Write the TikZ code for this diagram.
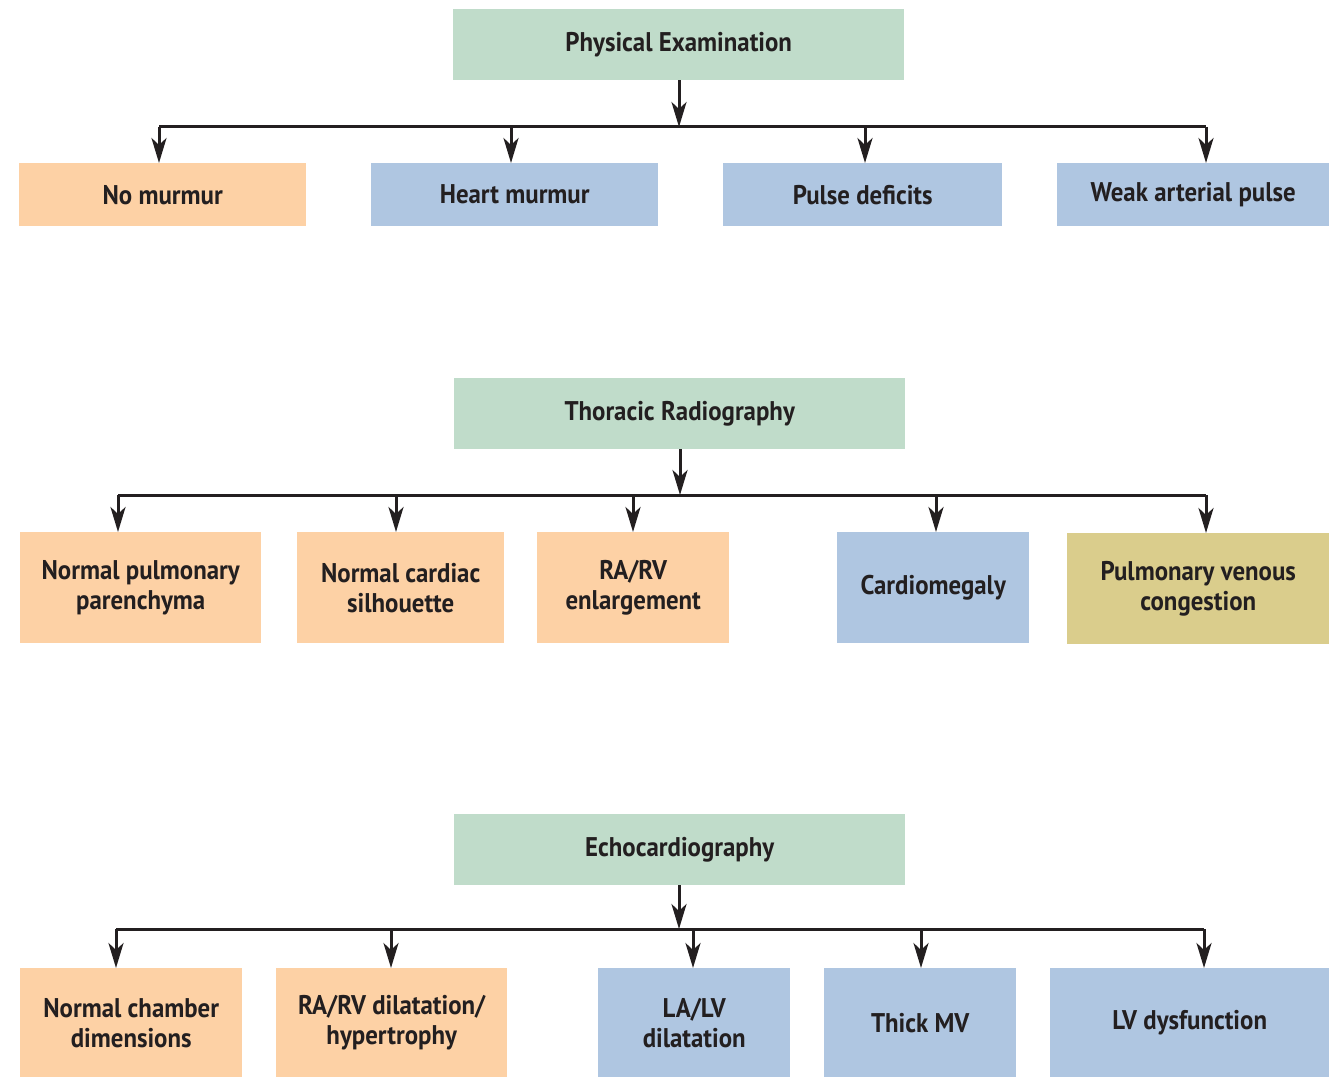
\documentclass[tikz,border=0pt]{standalone}
\usepackage{fontspec}
\setmainfont[FakeStretch=0.92]{PT Sans}
\usetikzlibrary{arrows.meta}
\definecolor{grn}{HTML}{C0DCCA}
\definecolor{org}{HTML}{FDD1A5}
\definecolor{blu}{HTML}{AFC6E1}
\definecolor{olv}{HTML}{DACD8C}
\definecolor{ink}{HTML}{231F20}
\begin{document}
\begin{tikzpicture}[x=1pt,y=-1pt,
  box/.style={anchor=north west,inner sep=0pt,align=center,text=ink,
    font=\fontsize{27}{30}\selectfont\bfseries},
  arr/.style={draw=ink,line width=3pt,-{Stealth[length=25pt 0,width=15pt 0,inset=7pt]}},
  bus/.style={draw=ink,line width=3pt}]
\useasboundingbox (0,0) rectangle (1329,1078);
% helper macro for boxes
\newcommand\mkbox[7]{\node[box,fill=#2,minimum width=#5-#3,minimum height=#6-#4] (#1) at (#3,#4) {#7};}
% Physical examination
\mkbox{pe}{grn}{453}{9}{904}{80}{Physical Examination}
\mkbox{nm}{org}{19}{163}{306}{226}{No murmur}
\mkbox{hm}{blu}{371}{163}{658}{226}{Heart murmur}
\mkbox{pd}{blu}{723}{163}{1002}{226}{Pulse deficits}
\mkbox{wa}{blu}{1057}{163}{1329}{226}{Weak arterial pulse}
\coordinate (b1) at (679,127);
\coordinate (b1l) at (159,127);
\coordinate (b1r) at (1206,127);
\draw[arr] (pe.south -| b1) -- (b1);
\draw[bus] (b1l) -- (b1r);
\draw[arr] (b1l) -- (nm.north -| b1l);
\draw[arr] (511,127) -- (hm.north -| 511,0);
\draw[arr] (865,127) -- (pd.north -| 865,0);
\draw[arr] (b1r) -- (wa.north -| b1r);
% Thoracic radiography
\mkbox{tr}{grn}{454}{378}{905}{449}{Thoracic Radiography}
\mkbox{np}{org}{20}{532}{261}{643}{Normal pulmonary\\parenchyma}
\mkbox{nc}{org}{297}{532}{504}{643}{Normal cardiac\\silhouette}
\mkbox{ra}{org}{537}{532}{729}{643}{RA/RV\\enlargement}
\mkbox{cm}{blu}{837}{532}{1029}{643}{Cardiomegaly}
\mkbox{pv}{olv}{1067}{533}{1329}{644}{Pulmonary venous\\congestion}
\coordinate (b2) at (680,495);
\coordinate (b2l) at (118,495);
\coordinate (b2r) at (1206,495);
\draw[arr] (tr.south -| b2) -- (b2);
\draw[bus] (b2l) -- (b2r);
\draw[arr] (b2l) -- (np.north -| b2l);
\draw[arr] (396,495) -- (nc.north -| 396,0);
\draw[arr] (633,495) -- (ra.north -| 633,0);
\draw[arr] (936,495) -- (cm.north -| 936,0);
\draw[arr] (b2r) -- (pv.north -| b2r);
% Echocardiography
\mkbox{ec}{grn}{454}{814}{905}{885}{Echocardiography}
\mkbox{ncd}{org}{20}{968}{242}{1077}{Normal chamber\\dimensions}
\mkbox{rad}{org}{276}{968}{507}{1077}{RA/RV dilatation/\\hypertrophy}
\mkbox{lad}{blu}{598}{968}{790}{1077}{LA/LV\\dilatation}
\mkbox{tmv}{blu}{824}{968}{1016}{1077}{Thick MV}
\mkbox{lvd}{blu}{1050}{968}{1329}{1077}{LV dysfunction}
\coordinate (b3) at (679,929);
\coordinate (b3l) at (116,929);
\coordinate (b3r) at (1204,929);
\draw[arr] (ec.south -| b3) -- (b3);
\draw[bus] (b3l) -- (b3r);
\draw[arr] (b3l) -- (ncd.north -| b3l);
\draw[arr] (391,929) -- (rad.north -| 391,0);
\draw[arr] (693,929) -- (lad.north -| 693,0);
\draw[arr] (921,929) -- (tmv.north -| 921,0);
\draw[arr] (b3r) -- (lvd.north -| b3r);
\end{tikzpicture}
\end{document}
